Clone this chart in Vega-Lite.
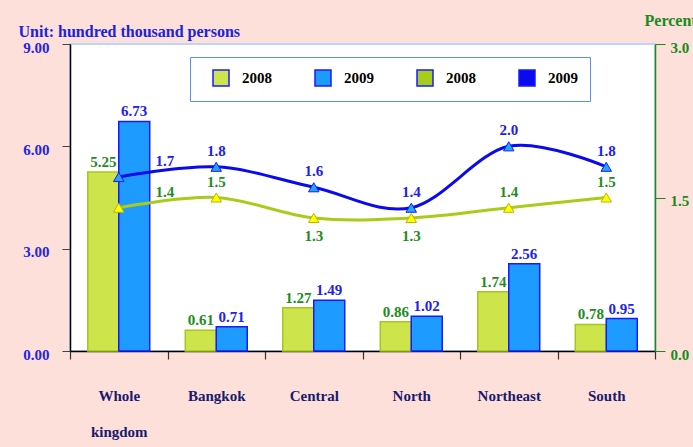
{
  "$schema": "https://vega.github.io/schema/vega-lite/v6.json",
  "width": 585,
  "height": 307,
  "autosize": {"type": "none"},
  "padding": {"left": 70, "top": 44, "right": 38, "bottom": 96},
  "background": "#fde0da",
  "config": {
    "font": "Liberation Serif",
    "view": {"fill": "white", "stroke": "#bdd5fb", "strokeWidth": 2},
    "axis": {"grid": false, "labelFont": "Liberation Serif", "titleFont": "Liberation Serif", "labelFontWeight": "bold", "titleFontWeight": "bold", "labelFontSize": 15, "titleFontSize": 16}
  },
  "datasets": {
    "persons": [
      {"region": "Whole kingdom", "year": 2008, "series": "bars 2008", "value": 5.25},
      {"region": "Whole kingdom", "year": 2009, "series": "bars 2009", "value": 6.73},
      {"region": "Bangkok", "year": 2008, "series": "bars 2008", "value": 0.61},
      {"region": "Bangkok", "year": 2009, "series": "bars 2009", "value": 0.71},
      {"region": "Central", "year": 2008, "series": "bars 2008", "value": 1.27},
      {"region": "Central", "year": 2009, "series": "bars 2009", "value": 1.49},
      {"region": "North", "year": 2008, "series": "bars 2008", "value": 0.86},
      {"region": "North", "year": 2009, "series": "bars 2009", "value": 1.02},
      {"region": "Northeast", "year": 2008, "series": "bars 2008", "value": 1.74},
      {"region": "Northeast", "year": 2009, "series": "bars 2009", "value": 2.56},
      {"region": "South", "year": 2008, "series": "bars 2008", "value": 0.78},
      {"region": "South", "year": 2009, "series": "bars 2009", "value": 0.95}
    ],
    "rates": [
      {"region": "Whole kingdom", "year": 2008, "series": "line 2008", "value": 1.4},
      {"region": "Bangkok", "year": 2008, "series": "line 2008", "value": 1.5},
      {"region": "Central", "year": 2008, "series": "line 2008", "value": 1.3},
      {"region": "North", "year": 2008, "series": "line 2008", "value": 1.3},
      {"region": "Northeast", "year": 2008, "series": "line 2008", "value": 1.4},
      {"region": "South", "year": 2008, "series": "line 2008", "value": 1.5},
      {"region": "Whole kingdom", "year": 2009, "series": "line 2009", "value": 1.7},
      {"region": "Bangkok", "year": 2009, "series": "line 2009", "value": 1.8},
      {"region": "Central", "year": 2009, "series": "line 2009", "value": 1.6},
      {"region": "North", "year": 2009, "series": "line 2009", "value": 1.4},
      {"region": "Northeast", "year": 2009, "series": "line 2009", "value": 2.0},
      {"region": "South", "year": 2009, "series": "line 2009", "value": 1.8}
    ]
  },
  "layer": [
    {
      "data": {"name": "persons"},
      "encoding": {
        "x": {
          "field": "region", "type": "nominal",
          "sort": ["Whole kingdom", "Bangkok", "Central", "North", "Northeast", "South"],
          "scale": {"paddingInner": 0, "paddingOuter": 0},
          "axis": {
            "title": null, "labelAngle": 0, "domainColor": "#000000", "domainWidth": 1.5,
            "tickColor": "#333333", "tickSize": 8, "tickWidth": 1.2, "tickBand": "extent",
            "labelColor": "#1a1a6e", "labelPadding": 29, "labelLineHeight": 36,
            "labelExpr": "datum.value == 'Whole kingdom' ? ['Whole', 'kingdom'] : datum.value"
          }
        },
        "y": {
          "field": "value", "type": "quantitative",
          "scale": {"domain": [0, 9], "nice": false},
          "axis": {
            "orient": "left", "values": [0, 3, 6, 9], "format": ".2f",
            "domainColor": "#000000", "domainWidth": 1.5, "tickColor": "#444444", "tickSize": 8,
            "labelPadding": 13, "labelOffset": 3, "labelColor": "#2424e6",
            "title": "Unit: hundred thousand persons", "titleAngle": 0, "titleAlign": "left",
            "titleBaseline": "alphabetic", "titleX": -52, "titleY": -8, "titleColor": "#2020e0"
          }
        }
      },
      "layer": [
        {
          "mark": {"type": "bar", "strokeWidth": 1.5},
          "encoding": {
            "xOffset": {"field": "year", "type": "nominal", "scale": {"paddingInner": 0, "paddingOuter": 0.573}},
            "color": {
              "field": "series", "type": "nominal",
              "scale": {"domain": ["bars 2008", "bars 2009", "line 2008", "line 2009"], "range": ["#cde44b", "#1e9bff", "#a8cc1a", "#0a0aee"]},
              "legend": {
                "orient": "none", "legendX": 120, "legendY": 13, "direction": "horizontal", "columns": 4,
                "title": " ", "titleOrient": "left", "titlePadding": 10, "titleFontSize": 15,
                "padding": 12, "fillColor": "white", "strokeColor": "#5a8cff",
                "columnPadding": 40, "symbolSize": 256, "labelOffset": 12,
                "labelFont": "Liberation Serif", "labelFontSize": 15, "labelFontWeight": "bold", "labelColor": "#000000",
                "labelExpr": "slice(datum.label, -4)",
                "encode": {
                  "legend": {"strokeWidth": {"value": 1.5}},
                  "symbols": {
                    "shape": {"value": {"expr": "indexof(datum.value, 'line') >= 0 ? 'M-1.9,0H1.9M-0.7,0.5L0,-0.65L0.7,0.5Z' : 'M-1.75,-1H1.75V1H-1.75Z'"}},
                    "fill": {"value": {"expr": "datum.value == 'bars 2008' ? '#cde44b' : datum.value == 'bars 2009' ? '#1e9bff' : datum.value == 'line 2008' ? '#ffff00' : '#1ea8ff'"}},
                    "stroke": {"value": {"expr": "datum.value == 'bars 2008' ? '#a6c81e' : datum.value == 'bars 2009' ? '#1a1aff' : datum.value == 'line 2008' ? '#a8cc1a' : '#0a0aee'"}},
                    "strokeWidth": {"value": {"expr": "indexof(datum.value, 'line') >= 0 ? 2.5 : 1.2"}},
                    "opacity": {"value": 1},
                    "fillOpacity": {"value": 1}
                  }
                }
              }
            },
            "stroke": {"condition": {"test": "datum.year == 2008", "value": "#a6c81e"}, "value": "#1a1aff"}
          }
        },
        {
          "mark": {"type": "text", "dy": -10, "fontSize": 15, "fontWeight": "bold", "font": "Liberation Serif"},
          "encoding": {
            "xOffset": {"field": "year", "type": "nominal"},
            "text": {"field": "value", "type": "quantitative", "format": ".2f"},
            "color": {"condition": {"test": "datum.year == 2008", "value": "#1e8c1e"}, "value": "#2020f0"}
          }
        }
      ]
    },
    {
      "data": {"name": "rates"},
      "encoding": {
        "x": {"field": "region", "type": "nominal", "sort": ["Whole kingdom", "Bangkok", "Central", "North", "Northeast", "South"]},
        "y": {
          "field": "value", "type": "quantitative",
          "scale": {"domain": [0, 3], "nice": false},
          "axis": {
            "orient": "right", "values": [0, 1.5, 3], "format": ".1f",
            "domainColor": "#1a8a1a", "domainWidth": 1.5, "tickColor": "#1a8a1a", "tickSize": 10,
            "labelPadding": 5, "labelOffset": 3, "labelColor": "#1a8a1a",
            "title": "Percent", "titleAngle": 0, "titleAlign": "left", "titleBaseline": "alphabetic",
            "titleX": -11, "titleY": -19, "titleColor": "#1a8a1a"
          }
        }
      },
      "layer": [
        {
          "mark": {"type": "line", "strokeWidth": 3, "interpolate": "cardinal"},
          "encoding": {
            "detail": {"field": "series", "type": "nominal"},
            "stroke": {"condition": {"test": "datum.year == 2008", "value": "#a8cc1a"}, "value": "#0a0aee"}
          }
        },
        {
          "mark": {"type": "point", "shape": "triangle-up", "filled": true, "size": 110, "strokeWidth": 1, "opacity": 1},
          "encoding": {
            "fill": {"condition": {"test": "datum.year == 2008", "value": "#ffff00"}, "value": "#1ea8ff"},
            "stroke": {"condition": {"test": "datum.year == 2008", "value": "#b8b800"}, "value": "#1a1aff"}
          }
        },
        {
          "transform": [{"filter": "datum.region == 'Whole kingdom'"}],
          "mark": {"type": "text", "dx": 46, "dy": -16, "fontSize": 15, "fontWeight": "bold", "font": "Liberation Serif"},
          "encoding": {
            "text": {"field": "value", "type": "quantitative", "format": ".1f"},
            "color": {"condition": {"test": "datum.year == 2008", "value": "#1e8c1e"}, "value": "#2020f0"}
          }
        },
        {
          "transform": [{"filter": "datum.region != 'Whole kingdom' && (datum.year == 2009 || datum.region == 'Bangkok' || datum.region == 'Northeast' || datum.region == 'South')"}],
          "mark": {"type": "text", "dy": -16, "fontSize": 15, "fontWeight": "bold", "font": "Liberation Serif"},
          "encoding": {
            "text": {"field": "value", "type": "quantitative", "format": ".1f"},
            "color": {"condition": {"test": "datum.year == 2008", "value": "#1e8c1e"}, "value": "#2020f0"}
          }
        },
        {
          "transform": [{"filter": "datum.year == 2008 && (datum.region == 'Central' || datum.region == 'North')"}],
          "mark": {"type": "text", "dy": 18, "fontSize": 15, "fontWeight": "bold", "font": "Liberation Serif"},
          "encoding": {
            "text": {"field": "value", "type": "quantitative", "format": ".1f"},
            "color": {"value": "#1e8c1e"}
          }
        }
      ]
    }
  ],
  "resolve": {"scale": {"y": "independent"}}
}
